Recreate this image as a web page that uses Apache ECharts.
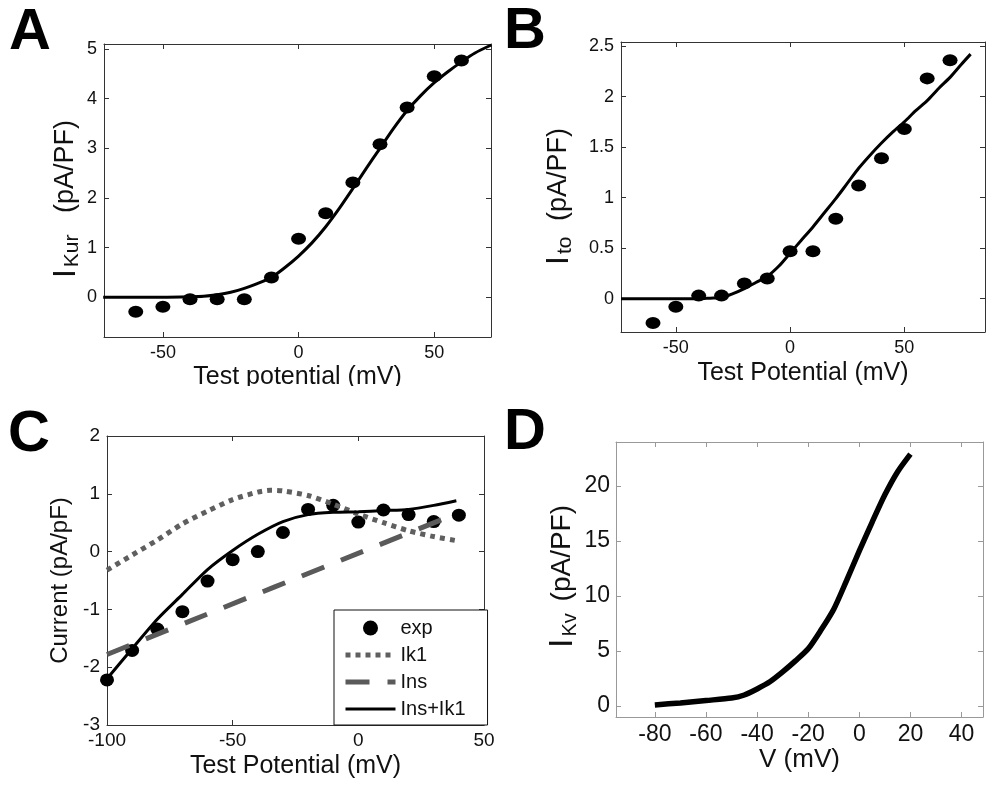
<!DOCTYPE html>
<html><head><meta charset="utf-8">
<script src="https://cdn.jsdelivr.net/npm/echarts@6/dist/echarts.min.js"></script>
<style>html,body{margin:0;padding:0;background:#fff}#c{width:989px;height:805px}</style>
</head><body><div id="c"></div>
<script>
// ---------- Panel A : IKur ----------
const aExpX = [-60,-50,-40,-30,-20,-10,0,10,20,30,40,50,60];
const aExpY = [-0.29,-0.19,-0.04,-0.04,-0.04,0.40,1.18,1.69,2.31,3.08,3.82,4.45,4.77];
const aFitX = [-72,-50,-40,-35,-30,-25,-20,-15,-10,-5,0,5,10,15,20,25,30,35,40,45,50,55,60,65,71];
const aFitY = [0,0,0.01,0.02,0.05,0.10,0.18,0.28,0.40,0.60,0.83,1.10,1.42,1.79,2.19,2.60,3.00,3.40,3.76,4.06,4.32,4.54,4.74,4.92,5.08];
const aXTicks = [-50,0,50];
const aYTicks = [0,1,2,3,4,5];
// ---------- Panel B : Ito ----------
const bExpX = [-60,-50,-40,-30,-20,-10,0,10,20,30,40,50,60,70];
const bExpY = [-0.24,-0.08,0.03,0.03,0.15,0.20,0.47,0.47,0.79,1.12,1.39,1.68,2.18,2.36];
const bFitX = [-74,-50,-40,-35,-30,-25,-20,-15,-10,-5,0,5,10,15,20,25,30,35,40,45,50,55,60,65,70,75,79];
const bFitY = [0,0,0,0.005,0.01,0.05,0.10,0.16,0.22,0.32,0.45,0.58,0.71,0.85,0.99,1.14,1.29,1.42,1.54,1.65,1.75,1.86,1.96,2.08,2.19,2.32,2.42];
const bXTicks = [-50,0,50];
const bYTicks = [0,0.5,1,1.5,2,2.5];
// ---------- Panel C : currents ----------
const cExpX = [-100,-90,-80,-70,-60,-50,-40,-30,-20,-10,0,10,20,30,40];
const cExpY = [-2.22,-1.71,-1.34,-1.04,-0.51,-0.14,0.00,0.33,0.73,0.80,0.51,0.72,0.64,0.52,0.63];
const cIk1X = [-100,-90,-80,-70,-60,-50,-40,-35,-30,-20,-10,0,10,20,30,39];
const cIk1Y = [-0.32,-0.06,0.20,0.48,0.70,0.90,1.03,1.06,1.05,0.97,0.82,0.65,0.50,0.36,0.26,0.19];
const cInsX = [-100,33];
const cInsY = [-1.78,0.55];
const cSumX = [-100,-90,-80,-70,-60,-50,-40,-30,-20,-10,0,10,20,30,39];
const cSumY = [-2.20,-1.68,-1.17,-0.74,-0.31,0.02,0.30,0.52,0.64,0.68,0.69,0.71,0.73,0.80,0.88];
const cXTicks = [-100,-50,0,50];
const cYTicks = [-3,-2,-1,0,1,2];
const cLegend = ['exp','Ik1','Ins','Ins+Ik1'];
// ---------- Panel D : IKv ----------
const dX = [-80,-70,-60,-50,-45,-40,-35,-30,-25,-20,-15,-10,-5,0,5,10,15,20];
const dY = [0.10,0.28,0.50,0.72,1.00,1.55,2.20,3.10,4.10,5.20,6.90,8.80,11.40,14.10,16.70,19.20,21.30,22.90];
const dXTicks = [-80,-60,-40,-20,0,20,40];
const dYTicks = [0,5,10,15,20];

const FONT = '"Liberation Sans", Arial, Helvetica, sans-serif';
function pairs(xs, ys){ return xs.map((x,i)=>[x, ys[i]]); }

const grids = [
  {left:104, top:44, width:387, height:293},
  {left:621, top:42, width:364, height:290},
  {left:107, top:436, width:377, height:289},
  {left:616, top:442, width:367, height:275}
];
const xAxes = [], yAxes = [];
function addPanel(g, o){
  const line = {show:true, onZero:false, lineStyle:{color:o.color, width:1}};
  const lbl = (ticks, margin) => ({show:true, customValues:ticks, fontSize:o.tick, margin, fontFamily:FONT, color:'#111', showMinLabel:true, showMaxLabel:true});
  const tick = (ticks) => ({show:true, inside:true, length:5, customValues:ticks, lineStyle:{color:o.color, width:1}});
  xAxes.push({type:'value', gridIndex:g, position:'bottom', min:o.xr[0], max:o.xr[1],
    name:o.xName, nameLocation:'middle', nameGap:o.xGap,
    nameTextStyle:{fontSize:o.xNameSize, fontFamily:FONT, color:'#111'},
    axisLine:line, axisTick:tick(o.xt), axisLabel:lbl(o.xt, o.xm), splitLine:{show:false}});
  xAxes.push({type:'value', gridIndex:g, position:'top', min:o.xr[0], max:o.xr[1],
    axisLine:line, axisTick:tick(o.xt), axisLabel:{show:false}, splitLine:{show:false}});
  yAxes.push({type:'value', gridIndex:g, position:'left', min:o.yr[0], max:o.yr[1],
    name:o.yName, nameLocation:'middle', nameGap:o.yGap, nameRotate:90,
    nameTextStyle:Object.assign({fontFamily:FONT, color:'#111', padding:o.yPad}, o.yStyle),
    axisLine:line, axisTick:tick(o.yt), axisLabel:lbl(o.yt, o.ym), splitLine:{show:false}});
  yAxes.push({type:'value', gridIndex:g, position:'right', min:o.yr[0], max:o.yr[1],
    axisLine:line, axisTick:tick(o.yt), axisLabel:{show:false}, splitLine:{show:false}});
}
function subRich(iSize, sSize, nSize, lh, gap){
  return {rich:{
    i:{fontSize:iSize, fontFamily:FONT, color:'#111', lineHeight:lh},
    s:{fontSize:sSize, fontFamily:FONT, color:'#111', lineHeight:Math.round(lh*0.62), verticalAlign:'bottom', padding:[0,gap,0,2]},
    n:{fontSize:nSize, fontFamily:FONT, color:'#111', lineHeight:lh}
  }};
}
addPanel(0, {color:'#333', tick:18, xr:[-71.7,70.9], yr:[-0.8,5.1], xt:aXTicks, yt:aYTicks, xm:7, ym:7,
  xName:'Test potential (mV)', xGap:28, xNameSize:25,
  yName:'{i|I}{s|Kur}{n| (pA/PF)}', yGap:21, yPad:[0,17,0,0], yStyle:subRich(32,21,27,34,14)});
addPanel(1, {color:'#333', tick:18, xr:[-74,85.3], yr:[-0.33,2.54], xt:bXTicks, yt:bYTicks, xm:7, ym:7,
  xName:'Test Potential (mV)', xGap:29, xNameSize:25,
  yName:'{i|I}{s|to}{n| (pA/PF)}', yGap:45, yPad:[0,19,0,0], yStyle:subRich(32,21,27,34,8)});
addPanel(2, {color:'#333', tick:19, xr:[-100,50], yr:[-3,2], xt:cXTicks, yt:cYTicks, xm:6, ym:7,
  xName:'Test Potential (mV)', xGap:29, xNameSize:25,
  yName:'Current (pA/pF)', yGap:35, yPad:[0,0,0,0], yStyle:{fontSize:24}});
addPanel(3, {color:'#999', tick:23, xr:[-95.2,48.4], yr:[-1,24], xt:dXTicks, yt:dYTicks, xm:6, ym:6,
  xName:'V (mV)', xGap:30, xNameSize:26,
  yName:'{i|I}{s|Kv}{n| (pA/PF)}', yGap:34, yPad:[0,0,0,6], yStyle:subRich(34,20,28,36,4)});

const dot = (name, xi, xs, ys, size) => ({type:'scatter', name, xAxisIndex:xi, yAxisIndex:xi, data:pairs(xs,ys),
  symbol:'circle', symbolSize:size, itemStyle:{color:'#000', opacity:1}, z:2});
const curve = (name, xi, xs, ys, ls) => ({type:'line', name, xAxisIndex:xi, yAxisIndex:xi, data:pairs(xs,ys),
  symbol:'none', showSymbol:false, smooth:0.25, lineStyle:ls, itemStyle:{color:ls.color, opacity:0}, z:3});

const series = [
  dot('A exp', 0, aExpX, aExpY, [15,12]),
  curve('A fit', 0, aFitX, aFitY, {color:'#000', width:3}),
  dot('B exp', 2, bExpX, bExpY, [15,12]),
  curve('B fit', 2, bFitX, bFitY, {color:'#000', width:3}),
  dot(cLegend[0], 4, cExpX, cExpY, [14,13]),
  curve(cLegend[1], 4, cIk1X, cIk1Y, {color:'#5f5f5f', width:5, type:[5,5], cap:'butt'}),
  curve(cLegend[2], 4, cInsX, cInsY, {color:'#5a5a5a', width:5, type:[24,18], cap:'butt'}),
  curve(cLegend[3], 4, cSumX, cSumY, {color:'#000', width:3}),
  curve('D IKv', 6, dX, dY, {color:'#000', width:5.5, cap:'butt'})
];

const chart = echarts.init(document.getElementById('c'), null, {renderer:'canvas'});
chart.setOption({
  animation:false,
  backgroundColor:'#fff',
  grid:grids,
  xAxis:xAxes,
  yAxis:yAxes,
  series:series,
  legend:{show:true,
    data:[{name:cLegend[0]}, {name:cLegend[1], itemStyle:{opacity:0}}, {name:cLegend[2], itemStyle:{opacity:0}}, {name:cLegend[3], itemStyle:{opacity:0}}],
    orient:'vertical', left:334, top:610,
    itemWidth:50, itemHeight:15, itemGap:7, padding:[8,22,6,9],
    backgroundColor:'#fff', borderColor:'#111', borderWidth:1, borderRadius:0,
    selectedMode:false, lineStyle:{width:'inherit'},
    textStyle:{fontSize:20, color:'#111', fontFamily:FONT}},
  graphic:[
    {type:'rect', shape:{x:150, y:386, width:320, height:13}, style:{fill:'#fff'}, z:100},
    {type:'text', left:9, top:4, style:{text:'A', font:'bold 58px ' + FONT, fill:'#000'}},
    {type:'text', left:504, top:3, style:{text:'B', font:'bold 58px ' + FONT, fill:'#000'}},
    {type:'text', left:8, top:406, style:{text:'C', font:'bold 58px ' + FONT, fill:'#000'}},
    {type:'text', left:504, top:404, style:{text:'D', font:'bold 58px ' + FONT, fill:'#000'}}
  ]
});
</script></body></html>
